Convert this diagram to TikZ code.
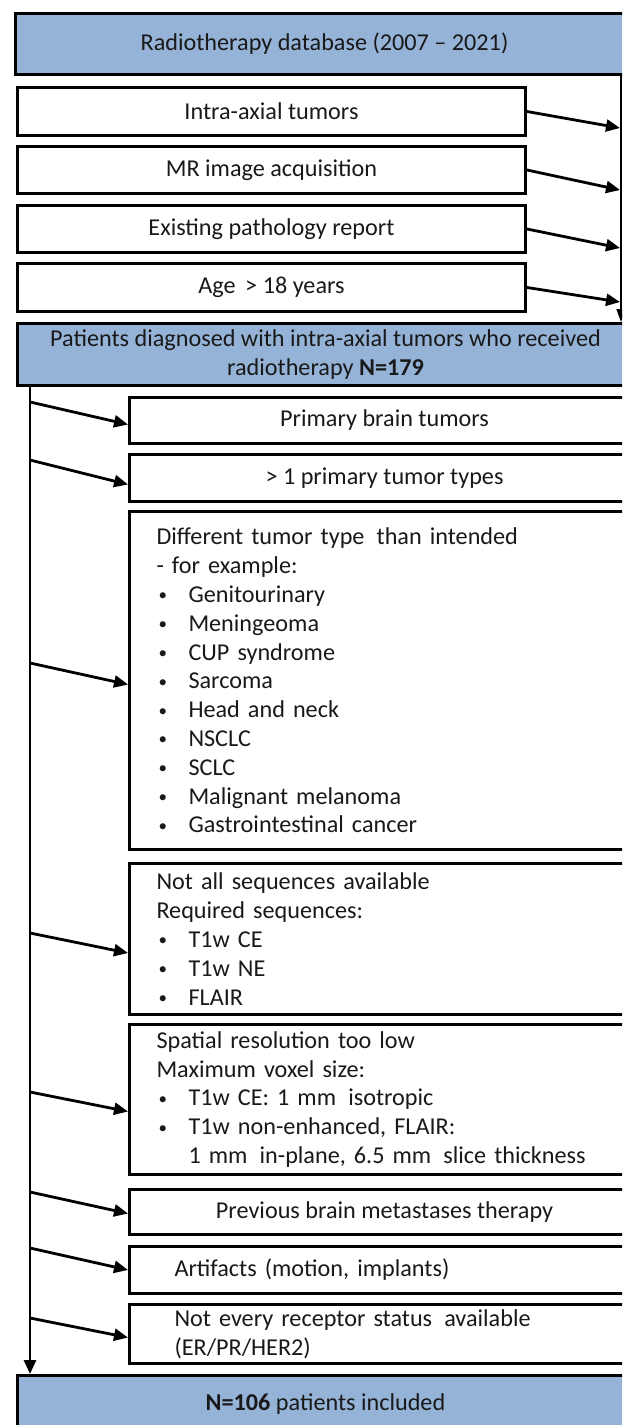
\documentclass[tikz,border=0pt]{standalone}
\usepackage{fontspec}
\setmainfont{Carlito}
\usetikzlibrary{arrows.meta,calc}
\definecolor{boxblue}{RGB}{149,179,215}
\definecolor{ink}{RGB}{25,25,25}
\newcommand\bul[1]{\makebox[32pt][l]{\hspace{2pt}\raisebox{1.5pt}{\fontsize{17}{17}\selectfont\textbullet}}#1}
\begin{document}
\begin{tikzpicture}[x=1pt,y=-1pt,
  font=\fontsize{24.2}{28.8}\selectfont,
  box/.style={draw=black, line width=3pt, fill=white, anchor=north west,
    inner sep=0pt, text=ink, align=center},
  bluebox/.style={box, fill=boxblue},
  lbox/.style={box, align=left, inner xsep=27pt, text width=456pt},
  lboxb/.style={box, align=left, inner xsep=45pt, text width=420pt},
  arr/.style={line width=2.8pt, draw=black, -{Triangle[length=14pt,width=12pt]}},
  thinarr/.style={line width=1.4pt, draw=black, -{Triangle[length=13pt,width=9pt]}}
]
\useasboundingbox (0,0) rectangle (622,1425);
\clip (0,0) rectangle (622,1425);
\fill[white] (0,0) rectangle (622,1425);

% inclusion part
\node[bluebox, minimum width=618pt, minimum height=61pt] (db) at (14,12) {Radiotherapy database (2007 – 2021)};
\node[box, minimum width=508pt, minimum height=48pt] (c1) at (16,86) {Intra-axial tumors};
\node[box, minimum width=508pt, minimum height=47pt] (c2) at (16,145) {MR image acquisition};
\node[box, minimum width=508pt, minimum height=47pt] (c3) at (16,204) {Existing pathology report};
\node[box, minimum width=508pt, minimum height=48pt] (c4) at (16,262) {Age \,> 18 years};
\node[bluebox, minimum width=616pt, minimum height=62pt] (pat) at (16,322)
  {Patients diagnosed with intra-axial tumors who received\\ radiotherapy \textbf{N=179}};

% exclusion part
\node[box, minimum width=510pt, minimum height=46pt] (e1) at (128,396) {Primary brain tumors};
\node[box, minimum width=510pt, minimum height=47pt] (e2) at (128,453) {> 1 primary tumor types};
\node[lbox, minimum width=510pt, minimum height=338pt] (e3) at (128,510)
  {Different tumor type \,than intended\\
   - for example:\\
   \bul{Genitourinary}\\
   \bul{Meningeoma}\\
   \bul{CUP syndrome}\\
   \bul{Sarcoma}\\
   \bul{Head and neck}\\
   \bul{NSCLC}\\
   \bul{SCLC}\\
   \bul{Malignant melanoma}\\
   \bul{Gastrointestinal cancer}};
\node[lbox, minimum width=510pt, minimum height=151pt] (e4) at (128,862)
  {Not all sequences available\\
   Required sequences:\\
   \bul{T1w CE}\\
   \bul{T1w NE}\\
   \bul{FLAIR}};
\node[lbox, minimum width=510pt, minimum height=150pt] (e5) at (128,1023)
  {Spatial resolution too low\\
   Maximum voxel size:\\
   \bul{T1w CE: 1 mm \,isotropic}\\
   \bul{T1w non-enhanced, FLAIR:}\\
   \hspace*{32pt}1 mm \,in-plane, 6.5 mm \,slice thickness};
\node[box, minimum width=510pt, minimum height=45pt] (e6) at (128,1188) {Previous brain metastases therapy};
\node[lboxb, minimum width=510pt, minimum height=47pt] (e7) at (128,1245) {Artifacts (motion, implants)};
\node[lboxb, minimum width=510pt, minimum height=59pt] (e8) at (128,1303)
  {Not every receptor status \,available\\ (ER/PR/HER2)};
\node[bluebox, minimum width=616pt, minimum height=58pt] (fin) at (16,1374)
  {\textbf{N=106} patients included};

% right connector
\coordinate (rx) at (621,0);
\draw[thinarr] (db.south -| rx) -- (pat.north -| rx);
\coordinate (t1) at (620,128);
\coordinate (t2) at (620,190);
\coordinate (t3) at (620,248);
\coordinate (t4) at (620,302);
\draw[arr] (c1.east) -- (t1);
\draw[arr] (c2.east) -- (t2);
\draw[arr] (c3.east) -- (t3);
\draw[arr] (c4.east) -- (t4);

% left connector
\coordinate (lx) at (30,0);
\draw[arr] (pat.south -| lx) -- (fin.north -| lx);
\coordinate (s1) at (30,402);
\coordinate (s2) at (30,460);
\coordinate (s3) at (30,663);
\coordinate (s4) at (30,933);
\coordinate (s5) at (30,1092);
\coordinate (s6) at (30,1192);
\coordinate (s7) at (30,1248);
\coordinate (s8) at (30,1318);
\draw[arr] (s1) -- ([yshift=-4pt]e1.west);
\draw[arr] (s2) -- ([yshift=-6.5pt]e2.west);
\draw[arr] (s3) -- ([yshift=-4pt]e3.west);
\draw[arr] (s4) -- ([yshift=-14pt]e4.west);
\draw[arr] (s5) -- ([yshift=-12pt]e5.west);
\draw[arr] (s6) -- ([yshift=-1.5pt]e6.west);
\draw[arr] (s7) -- (e7.west);
\draw[arr] (s8) -- ([yshift=-3.5pt]e8.west);
\end{tikzpicture}
\end{document}
